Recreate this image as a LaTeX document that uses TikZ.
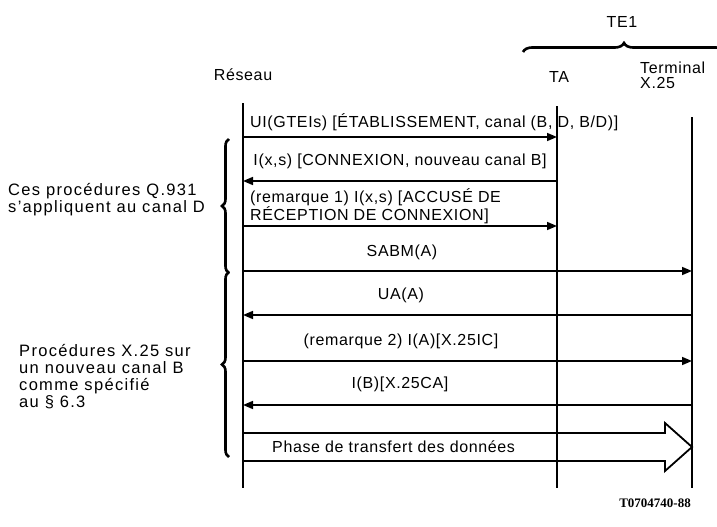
\documentclass[tikz,border=0pt]{standalone}
\usepackage{fontspec}
\setmainfont{Liberation Sans}[LetterSpace=4]
\newfontfamily\sidefont{Liberation Sans}[LetterSpace=8]
\newfontfamily\figfont{Liberation Serif}
\usetikzlibrary{arrows.meta,positioning,calc,decorations.pathreplacing}

\begin{document}
\begin{tikzpicture}[
    x=1pt, y=-1pt,
    font=\fontsize{16}{16}\selectfont,
    lifeline/.style={
        line width=1.3pt
    },
    msg/.style={
        -{Triangle[length=10pt,width=8pt]},
        line width=1.6pt
    },
    msglabel/.style={
        inner sep=0pt,
        align=left
    },
    heading/.style={
        inner sep=0pt,
        align=left,
        font=\fontsize{16}{15}\selectfont
    },
    sidelabel/.style={
        inner sep=0pt,
        anchor=west,
        align=left,
        font=\sidefont\fontsize{16.5}{17}\selectfont
    },
    groupbrace/.style={
        decorate,
        decoration={brace, amplitude=7pt},
        line width=2.6pt
    },
    bigarrow/.style={
        line width=1.8pt,
        line join=miter
    }
]

\useasboundingbox (0,0) rectangle (717,527);

% Entities
\node[heading] (te1) at (622,22) {TE1};
\node[heading] (reseau) at (243,75) {Réseau};
\node[heading] (ta) at (559,77) {TA};
\node[heading, anchor=west] (term) at (640,75) {Terminal\\X.25};

\draw[groupbrace, decoration={amplitude=9pt}] (523,52) -- (725,52);

% Lifelines
\coordinate (netTop) at (243,103);
\coordinate (netBot) at (243,488);
\coordinate (taTop) at (557,106);
\coordinate (taBot) at (557,488);
\coordinate (termTop) at (692,117);
\coordinate (termBot) at (692,488);

\foreach \who in {net,ta,term}
    \draw[lifeline] (\who Top) -- (\who Bot);

% ===========================
% Messages
% ===========================

\foreach \y/\src/\dst in {137/net/ta, 181/ta/net, 226/net/ta, 271/net/term,
                          315/term/net, 361/net/term, 405/term/net}
    \draw[msg] (\src Top |- 0,\y) -- (\dst Top |- 0,\y);

\node[msglabel, anchor=west] (uiLab) at (250,122)
{UI(GTEIs) [ÉTABLISSEMENT, canal (B, D, B/D)]};

\node[msglabel] (conLab) at (400,161)
{I(x,s) [CONNEXION, nouveau canal B]};

\node[msglabel, anchor=west] (ackLab) at (250,206)
{(remarque 1) I(x,s) [ACCUSÉ DE\\RÉCEPTION DE CONNEXION]};

\node[msglabel] (sabmLab) at (402,252) {SABM(A)};
\node[msglabel] (uaLab) at (401,295) {UA(A)};
\node[msglabel] (icLab) at (401,341) {(remarque 2) I(A)[X.25IC]};
\node[msglabel] (caLab) at (400,384) {I(B)[X.25CA]};

% Data transfer phase
\coordinate (phaseEnd) at (termTop |- 0,447);
\draw[bigarrow] (netTop |- 0,433) -- (665,433) -- (665,423) -- (phaseEnd)
    -- (665,471) -- (665,461) -- (netTop |- 0,461);

\node[msglabel, anchor=west] (phaseLab) at (272,447)
{Phase de transfert des données};

% ===========================
% Procedure groups
% ===========================

\draw[groupbrace] (229,273) -- (229,139);
\draw[groupbrace] (229,457) -- (229,272);

\node[sidelabel] (q931Lab) at (8,200)
{Ces procédures Q.931\\s’appliquent au canal D};

\node[sidelabel] (x25Lab) at (19,377)
{Procédures X.25 sur\\un nouveau canal B\\comme spécifié\\au § 6.3};

\node[inner sep=0pt, font=\figfont\bfseries\fontsize{13}{13}\selectfont] (figCode)
    at (655,503) {T0704740-88};

\end{tikzpicture}
\end{document}
